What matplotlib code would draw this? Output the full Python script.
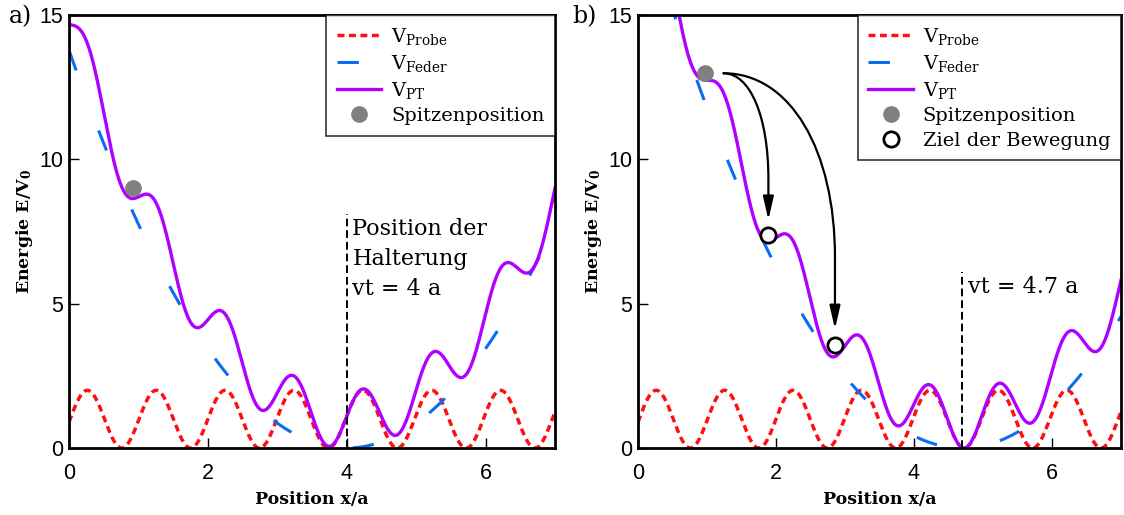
import numpy as np
import matplotlib.pyplot as plt
from matplotlib.path import Path
from matplotlib.patches import FancyArrowPatch

# model parameters
probe_period = 0.992     # V_Probe = 1 + sin(2 pi x / period + phase)
probe_phase = -0.1
feder_k = 0.861          # V_Feder = feder_k * (x - vt)^2
vt_a = 4.0
vt_b = 4.7

tip_a = (0.92, 9.0)
tip_b = (0.97, 13.0)
ziel_x = [1.89, 2.855]
ziel_y = [7.38, 3.57]
arrow_start = (1.24, 12.98)
arrow_end_y = [7.9, 4.12]

xticks = [0, 2, 4, 6]
yticks = [0, 5, 10, 15]

serif = 'DejaVu Serif'
plt.rcParams['mathtext.fontset'] = 'dejavuserif'

x = np.linspace(0, 7, 1400)


def v_probe(x):
    return 1 + np.sin(2 * np.pi * x / probe_period + probe_phase)


def v_feder(x, vt):
    return feder_k * (x - vt) ** 2


def draw(ax, vt, tip):
    ax.plot(x, v_probe(x), color='#ff1010', lw=2.5, dashes=(2.0, 1.3), label=r'V$_{\mathregular{Probe}}$')
    ax.plot(x, v_feder(x, vt), color='#0a6cf0', lw=2.2, dashes=(7, 21), label=r'V$_{\mathregular{Feder}}$')
    ax.plot(x, v_probe(x) + v_feder(x, vt), color='#b000ff', lw=2.4, label=r'V$_{\mathregular{PT}}$')
    ax.plot(*tip, 'o', color='#808080', ms=11, ls='none', label='Spitzenposition', zorder=5)
    ax.set_xlim(0, 7)
    ax.set_ylim(0, 15)
    ax.set_xticks(xticks)
    ax.set_yticks(yticks)
    ax.tick_params(direction='in', length=7, width=1, labelsize=15.5)
    ax.tick_params(axis='x', pad=11)
    ax.tick_params(axis='y', pad=4)
    for lab in ax.get_xticklabels() + ax.get_yticklabels():
        lab.set_family('Liberation Sans')
    for s in ax.spines.values():
        s.set_linewidth(2)
    ax.set_xlabel('Position x/a', family=serif, weight='bold', fontsize=12.5)
    ax.set_ylabel(r'Energie E/V$_\mathbf{0}$', family=serif, weight='bold', fontsize=12.5)
    ax.xaxis.set_label_coords(0.5, -0.10)
    ax.yaxis.set_label_coords(-0.07, 0.5)


def legend(ax):
    leg = ax.legend(loc='upper right', prop={'family': serif, 'size': 14}, fancybox=False,
                    edgecolor='black', borderaxespad=0, handlelength=2.3, handletextpad=0.5,
                    labelspacing=0.32, borderpad=0.55)
    leg.get_frame().set_linewidth(1.2)


def jump_arrow(ax, start, end):
    # horizontal start, bending down into a vertical approach
    sx, sy = start
    ex, ey = end
    dx = ex - sx
    dy = sy - ey
    verts = [(sx, sy), (sx + 0.6 * dx, sy), (ex, sy - 0.3 * dy), (ex, sy - 0.72 * dy), (ex, ey)]
    codes = [Path.MOVETO, Path.CURVE4, Path.CURVE4, Path.CURVE4, Path.LINETO]
    arr = FancyArrowPatch(path=Path(verts, codes), arrowstyle='-|>,head_length=0.7,head_width=0.16',
                          mutation_scale=20, color='black', lw=1.6)
    ax.add_patch(arr)


fig = plt.figure(figsize=(11.24, 5.15), dpi=100)
ax1 = fig.add_axes([0.0614, 0.130, 0.4324, 0.841])
ax2 = fig.add_axes([0.5676, 0.130, 0.4297, 0.841])

draw(ax1, vt_a, tip_a)
ax1.plot([vt_a, vt_a], [0, 8.1], color='black', lw=1.4, dashes=(4, 2))
ax1.text(vt_a + 0.08, 7.95, 'Position der\nHalterung\nvt = 4 a', family=serif, fontsize=16,
         va='top', ha='left', linespacing=1.45)
legend(ax1)

draw(ax2, vt_b, tip_b)
ax2.plot([vt_b, vt_b], [0, 6.1], color='black', lw=1.4, dashes=(4, 2))
ax2.text(vt_b + 0.08, 5.95, 'vt = 4.7 a', family=serif, fontsize=16, va='top', ha='left')
for zx, ey in zip(ziel_x, arrow_end_y):
    jump_arrow(ax2, arrow_start, (zx, ey))
ax2.plot(ziel_x, ziel_y, 'o', mfc='white', mec='black', mew=2, ms=11, ls='none',
         label='Ziel der Bewegung', zorder=6)
legend(ax2)

fig.text(0.008, 0.967, 'a)', family=serif, fontsize=17, va='center')
fig.text(0.509, 0.967, 'b)', family=serif, fontsize=17, va='center')

fig.savefig('out.png', dpi=100)
